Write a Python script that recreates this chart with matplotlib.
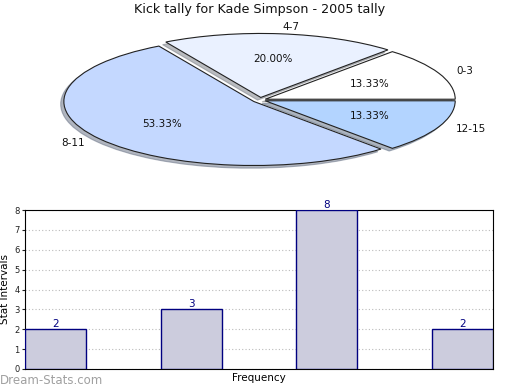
import matplotlib
matplotlib.use("Agg")
import numpy as np
from matplotlib import pyplot as plt

# data
pie_labels = ["0-3", "4-7", "8-11", "12-15"]
pie_counts = [2, 3, 8, 2]
pie_colors = ["#ffffff", "#eaf1ff", "#c4d8ff", "#b3d4ff"]

bar_values = [2, 3, 8, 2]
y_ticks = [0, 1, 2, 3, 4, 5, 6, 7, 8]

fig = plt.figure(figsize=(5.2, 3.9), dpi=100)
fig.patch.set_facecolor("white")

fig.text(0.5, 1 - 10 / 390, "Kick tally for Kade Simpson - 2005 tally",
         ha="center", va="center", fontsize=9.2, color="#111111")

# pie (squashed ellipse)
rx, ry = 190.0, 64.0
w, h = 2.6 * rx, 2.6 * ry
ax1 = fig.add_axes([(260 - w / 2) / 520, 1 - (100 + h / 2) / 390, w / 520, h / 390])
wedges, texts, autotexts = ax1.pie(
    pie_counts, labels=pie_labels, colors=pie_colors, startangle=0,
    counterclock=True, explode=[0.03, 0.04, 0.04, 0.03],
    shadow=dict(ox=-0.012, oy=-0.03, shade=0.5),
    autopct="%.2f%%", pctdistance=0.6, labeldistance=1.1,
    wedgeprops=dict(edgecolor="#222222", linewidth=0.8),
    textprops=dict(fontsize=7.5, color="#111111"))
ax1.set_aspect("auto")
ax1.set_xlim(-1.3, 1.3)
ax1.set_ylim(-1.3, 1.3)
ax1.axis("off")

# bars
ax2 = fig.add_axes([25 / 520, 21 / 390, 468 / 520, 159 / 390])
x = np.arange(len(bar_values))
bars = ax2.bar(x, bar_values, width=0.45, color="#ccccdd",
               edgecolor="#000080", linewidth=1.0, zorder=3)
for xi, v in zip(x, bar_values):
    ax2.text(xi, v, str(v), ha="center", va="bottom", fontsize=7.5,
             color="#000080", zorder=4)
ax2.set_xlim(-0.225, 3.225)
ax2.set_ylim(0, 8)
ax2.set_yticks(y_ticks)
ax2.set_xticks([])
ax2.tick_params(axis="y", labelsize=6, length=2, pad=2, colors="#222222")
ax2.yaxis.grid(True, linestyle=(0, (1, 2)), color="#bbbbbb", linewidth=0.8, zorder=0)
for s in ax2.spines.values():
    s.set_color("black")
    s.set_linewidth(0.8)
ax2.set_ylabel("Stat Intervals", fontsize=7.5, labelpad=3)
ax2.set_xlabel("Frequency", fontsize=7.5, labelpad=3)

fig.text(0.0, 10 / 390, "Dream-Stats.com", ha="left", va="center",
         fontsize=8.5, color="#a0a0a0")

fig.savefig("out.png", dpi=100)
